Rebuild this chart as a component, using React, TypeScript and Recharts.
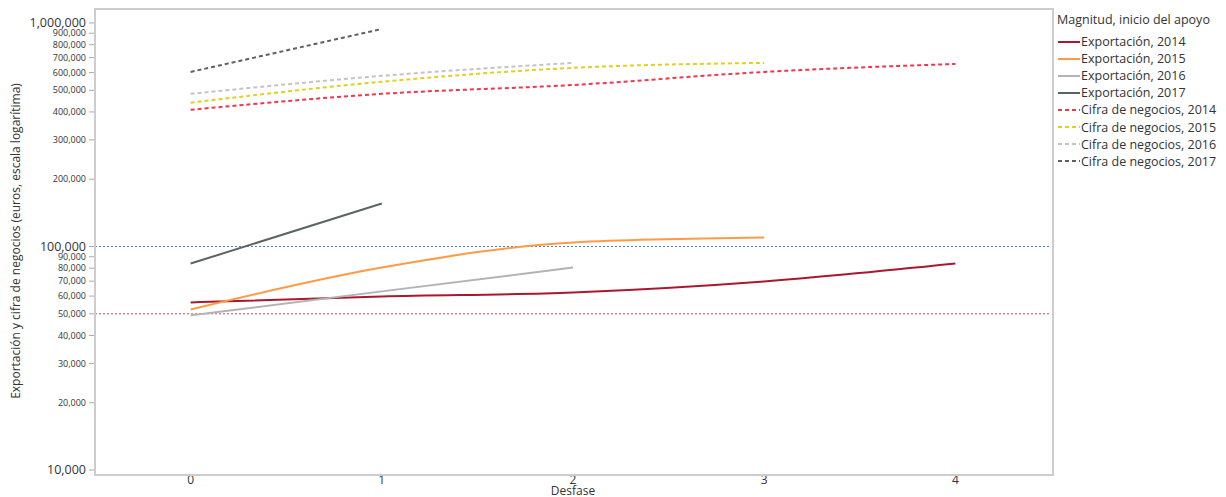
import React from 'react';
import { LineChart, Line, XAxis, YAxis, ReferenceLine } from 'recharts';

// Desfase (años desde el inicio del apoyo)
const desfase = [0, 1, 2, 3, 4];

const exp2014 = [56200, 59800, 62300, 69800, 83900];
const exp2015 = [52300, 80500, 104200, 109600];
const exp2016 = [49200, 63000, 80500];
const exp2017 = [83900, 155700];
const cifra2014 = [409000, 482000, 528000, 604000, 656000];
const cifra2015 = [440000, 546000, 630000, 663000];
const cifra2016 = [482000, 580000, 663000];
const cifra2017 = [604000, 940000];

const yTicks = [
  10000, 20000, 30000, 40000, 50000, 60000, 70000, 80000, 90000,
  100000, 200000, 300000, 400000, 500000, 600000, 700000, 800000, 900000, 1000000,
];
const bigTicks = [10000, 100000, 1000000];

const series = [
  { key: 'exp2014', name: 'Exportación, 2014', values: exp2014, color: '#a8192f', dashed: false },
  { key: 'exp2015', name: 'Exportación, 2015', values: exp2015, color: '#ff9a45', dashed: false },
  { key: 'exp2016', name: 'Exportación, 2016', values: exp2016, color: '#b3b3b3', dashed: false },
  { key: 'exp2017', name: 'Exportación, 2017', values: exp2017, color: '#5a6562', dashed: false },
  { key: 'cifra2014', name: 'Cifra de negocios, 2014', values: cifra2014, color: '#f2364b', dashed: true },
  { key: 'cifra2015', name: 'Cifra de negocios, 2015', values: cifra2015, color: '#e2d01a', dashed: true },
  { key: 'cifra2016', name: 'Cifra de negocios, 2016', values: cifra2016, color: '#c4c4c4', dashed: true },
  { key: 'cifra2017', name: 'Cifra de negocios, 2017', values: cifra2017, color: '#5a6360', dashed: true },
];

const data = desfase.map((d, i) => {
  const row: Record<string, number | undefined> = { desfase: d };
  series.forEach((s) => {
    row[s.key] = s.values[i];
  });
  return row;
});

const FONT = '"Open Sans", "Noto Sans", sans-serif';

const YTick = (props: any) => {
  const { x, y, payload } = props;
  const big = bigTicks.includes(payload.value);
  return (
    <text
      x={x}
      y={y}
      dy="0.35em"
      textAnchor="end"
      fontSize={big ? 12.5 : 9}
      fill="#333"
      fontFamily={FONT}
    >
      {payload.value.toLocaleString('en-US')}
    </text>
  );
};

export default function App() {
  return (
    <div style={{ position: 'absolute', left: 0, top: 0, width: 1226, height: 497, background: '#fff', fontFamily: FONT }}>
      <LineChart width={1226} height={497} data={data} margin={{ top: 9, right: 175, bottom: 0, left: 0 }}>
        <XAxis
          dataKey="desfase"
          type="number"
          domain={[-0.5, 4.5]}
          ticks={desfase}
          height={24}
          tickLine={false}
          axisLine={false}
          tick={{ fontSize: 12, fill: '#333', fontFamily: FONT }}
          tickSize={2}
          tickMargin={0}
        />
        <YAxis
          scale="log"
          type="number"
          domain={[9700, 1155000]}
          allowDataOverflow
          ticks={yTicks}
          width={95}
          interval={0}
          tick={<YTick />}
          tickSize={6}
          tickMargin={3}
          tickLine={{ stroke: '#aaa' }}
          axisLine={false}
          label={{
            content: () => (
              <text
                x={17}
                y={241}
                transform="rotate(-90 17 241)"
                textAnchor="middle"
                dominantBaseline="middle"
                fontSize={12}
                fill="#333"
                fontFamily={FONT}
              >
                Exportación y cifra de negocios (euros, escala logarítima)
              </text>
            ),
          }}
        />
        <ReferenceLine y={100000} stroke="#4a7be3" strokeDasharray="2 2" />
        <ReferenceLine y={50000} stroke="#d9455a" strokeDasharray="2 2" />
        {series.map((s) => (
          <Line
            key={s.key}
            dataKey={s.key}
            name={s.name}
            type="monotone"
            stroke={s.color}
            strokeWidth={2}
            strokeDasharray={s.dashed ? '4 3' : undefined}
            dot={false}
            activeDot={false}
            isAnimationActive={false}
          />
        ))}
      </LineChart>
      {/* marco del área de trazado */}
      <div
        style={{
          position: 'absolute',
          left: 94,
          top: 8,
          width: 956,
          height: 464,
          border: '2px solid #cdcdcd',
          pointerEvents: 'none',
        }}
      />
      <div
        style={{
          position: 'absolute',
          left: 0,
          top: 484,
          width: 1146,
          textAlign: 'center',
          fontSize: 12,
          lineHeight: '14px',
          color: '#333',
        }}
      >
        Desfase
      </div>
      {/* leyenda */}
      <div style={{ position: 'absolute', left: 1057, top: 11, fontSize: 12.5, color: '#333' }}>
        <div style={{ height: 22, lineHeight: '18px' }}>Magnitud, inicio del apoyo</div>
        {series.map((s) => (
          <div key={s.key} style={{ display: 'flex', alignItems: 'center', height: 17.1, whiteSpace: 'nowrap' }}>
            <svg width={23} height={4} style={{ marginRight: 1 }}>
              <line
                x1={1}
                y1={2}
                x2={23}
                y2={2}
                stroke={s.color}
                strokeWidth={2}
                strokeDasharray={s.dashed ? '4 3' : undefined}
              />
            </svg>
            <span>{s.name}</span>
          </div>
        ))}
      </div>
    </div>
  );
}
